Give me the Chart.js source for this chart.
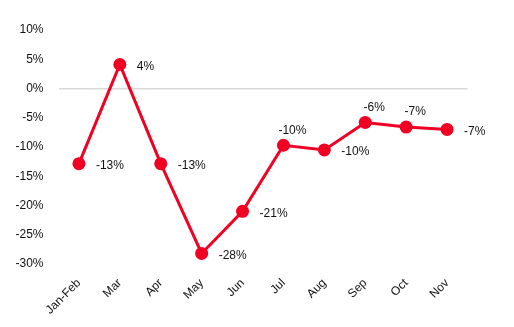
<!DOCTYPE html>
<html><head><meta charset="utf-8">
<script src="https://cdn.jsdelivr.net/npm/chart.js@4/dist/chart.umd.min.js"></script>
<style>html,body{margin:0;padding:0;background:#fff}#wrap{width:514px;height:327px}</style>
</head><body><div id="wrap"><canvas id="c" width="514" height="327"></canvas></div>
<script>
const categories = ['Jan-Feb','Mar','Apr','May','Jun','Jul','Aug','Sep','Oct','Nov'];
const growth = [-12.85, 4.1, -12.85, -28.2, -21.0, -9.7, -10.5, -5.8, -6.6, -7.0];
const pointLabels = ['-13%','4%','-13%','-28%','-21%','-10%','-10%','-6%','-7%','-7%'];
const labelPlacement = ['right','right','right','right','right','above','right','above','above','right'];
const yTicks = [10,5,0,-5,-10,-15,-20,-25,-30];

const FONT = "'Liberation Sans Narrow','Arial Narrow','Liberation Sans',sans-serif";
const RED = 'rgb(240,0,34)';

const labelPlugin = {
  id: 'pointLabels',
  afterDatasetsDraw(chart) {
    const ctx = chart.ctx;
    const meta = chart.getDatasetMeta(0);
    ctx.save();
    ctx.font = '12px ' + FONT;
    ctx.fillStyle = '#111';
    ctx.textBaseline = 'middle';
    meta.data.forEach((pt, i) => {
      if (labelPlacement[i] === 'above') {
        ctx.textAlign = 'center';
        ctx.fillText(pointLabels[i], pt.x + 9, pt.y - 15);
      } else {
        ctx.textAlign = 'left';
        ctx.fillText(pointLabels[i], pt.x + 17, pt.y + 2);
      }
    });
    ctx.restore();
  }
};

new Chart(document.getElementById('c'), {
  type: 'line',
  data: {
    labels: categories,
    datasets: [{
      data: growth,
      borderColor: RED,
      backgroundColor: RED,
      borderWidth: 3,
      pointRadius: 6.5,
      pointHoverRadius: 6.5,
      pointBackgroundColor: RED,
      pointBorderColor: RED,
      pointBorderWidth: 0,
      tension: 0
    }]
  },
  options: {
    responsive: false,
    animation: false,
    devicePixelRatio: 1,
    layout: { padding: { top: 30, right: 46.5, bottom: 0, left: 0 } },
    plugins: { legend: { display: false }, tooltip: { enabled: false } },
    scales: {
      x: {
        offset: true,
        grid: { display: false },
        border: { display: false },
        ticks: { color: '#111', font: { family: FONT, size: 12 }, maxRotation: 45, minRotation: 45, padding: 4 },
        afterFit(s) { s.height = 63; }
      },
      y: {
        min: -30, max: 10,
        border: { display: false },
        grid: {
          drawTicks: false,
          color: c => (c.tick && c.tick.value === 0) ? '#d9d9d9' : 'rgba(0,0,0,0)',
          lineWidth: 1.5
        },
        afterBuildTicks(s) { s.ticks = yTicks.map(v => ({ value: v })); },
        ticks: { color: '#111', font: { family: FONT, size: 12 }, padding: 15, callback: v => v + '%' },
        afterFit(s) { s.width = 58.5; }
      }
    }
  },
  plugins: [labelPlugin]
});
</script>
</body></html>
